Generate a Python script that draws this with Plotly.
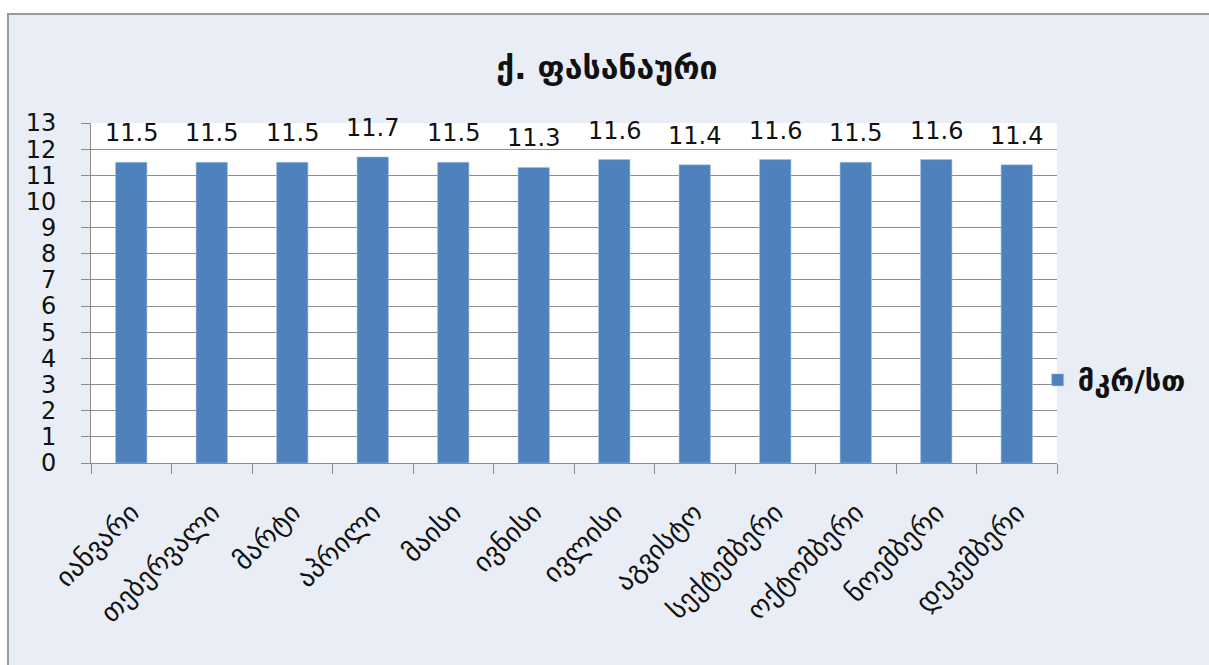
import plotly.graph_objects as go

# Monthly average dose rate, Pasanauri
months = ["იანვარი", "თებერვალი", "მარტი", "აპრილი", "მაისი", "ივნისი",
          "ივლისი", "აგვისტო", "სექტემბერი", "ოქტომბერი", "ნოემბერი", "დეკემბერი"]
values = [11.5, 11.5, 11.5, 11.7, 11.5, 11.3, 11.6, 11.4, 11.6, 11.5, 11.6, 11.4]
series_name = "მკრ/სთ"
title_text = "ქ. ფასანაური"
y_ticks = list(range(0, 14))

FONT = "DejaVu Sans"
GRID = "#8c8c8c"
BAR = "#4F81BD"
BG = "#E9EEF6"
INK = "#111111"

fig = go.Figure()
fig.add_trace(go.Bar(
    x=months,
    y=values,
    name=f"<b>{series_name}</b>",
    marker=dict(color=BAR, line=dict(color="#a9c1e0", width=0.6)),
    cliponaxis=False,
))

# value labels above each bar
annotations = [
    dict(x=m, y=v, xref="x", yref="y", text=f"{v:.1f}", showarrow=False,
         yanchor="bottom", yshift=13,
         font=dict(family=FONT, size=24, color=INK))
    for m, v in zip(months, values)
]

fig.update_layout(
    width=1209,
    height=665,
    margin=dict(l=91, r=152, t=123, b=202),
    paper_bgcolor="white",
    plot_bgcolor="white",
    bargap=0.61,
    showlegend=True,
    annotations=annotations,
    title=dict(
        text=f"<b>{title_text}</b>",
        x=0.502, xref="container", xanchor="center",
        y=1 - 68 / 665, yref="container", yanchor="middle",
        font=dict(family=FONT, size=32, color=INK),
    ),
    legend=dict(
        x=0.980, xanchor="left", y=0.244, yanchor="middle",
        bgcolor="rgba(0,0,0,0)",
        font=dict(family=FONT, size=29, color=INK),
        itemwidth=30,
    ),
    font=dict(family=FONT, color=INK),
    shapes=[
        # outer chart frame and background
        dict(type="rect", xref="paper", yref="paper",
             x0=(8 - 91) / 966, x1=1.3, y0=-0.8, y1=(463 - 14) / 340,
             fillcolor=BG, line=dict(color="#9a9a9a", width=2), layer="below"),
        # white plot area
        dict(type="rect", xref="paper", yref="paper",
             x0=0, x1=1, y0=0, y1=1,
             fillcolor="white", line=dict(width=0), layer="below"),
    ],
)

fig.update_xaxes(
    type="category",
    tickangle=-45,
    tickfont=dict(family=FONT, size=27, color=INK),
    showline=True, linecolor=GRID, linewidth=1,
    ticks="outside", ticklen=10, tickcolor=GRID, tickson="boundaries",
    ticklabelstandoff=22,
    showgrid=False,
)

fig.update_yaxes(
    range=[0, 13],
    tickvals=y_ticks,
    ticktext=[str(t) for t in y_ticks],
    tickfont=dict(family=FONT, size=24, color=INK),
    showline=True, linecolor=GRID, linewidth=1,
    ticks="outside", ticklen=9, tickcolor=GRID,
    ticklabelstandoff=20,
    showgrid=True, gridcolor=GRID, gridwidth=1,
    zeroline=False,
)

fig.write_html("out.html")
